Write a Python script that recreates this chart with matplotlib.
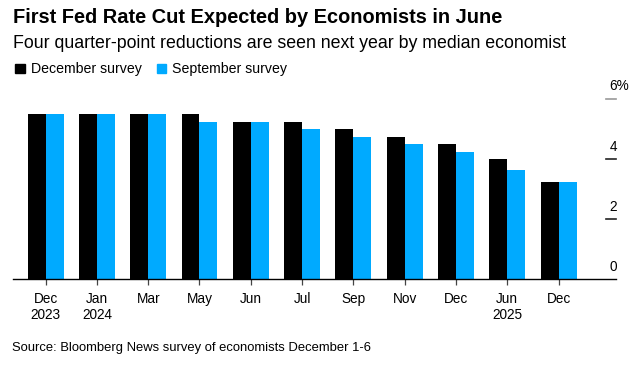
import matplotlib
matplotlib.use("Agg")
import matplotlib.pyplot as plt
import matplotlib.transforms as mtransforms
from matplotlib.patches import Rectangle
import numpy as np

# ============================
# Fed rate path: economists' survey
# ============================

months = ["Dec\n2023", "Jan\n2024", "Mar", "May", "Jun", "Jul",
          "Sep", "Nov", "Dec", "Jun\n2025", "Dec"]
december_survey = [5.5, 5.5, 5.5, 5.5, 5.25, 5.25, 5.0, 4.75, 4.5, 4.0, 3.25]
september_survey = [5.5, 5.5, 5.5, 5.25, 5.25, 5.0, 4.75, 4.5, 4.25, 3.625, 3.25]
y_ticks = [0, 2, 4, 6]
y_labels = ["0", "2", "4", "6%"]

BLACK = "#000000"
BLUE = "#00aaff"

plt.rcParams["font.family"] = ["Liberation Sans", "DejaVu Sans"]

W, H = 643, 368
fig = plt.figure(figsize=(W / 100, H / 100), dpi=100)
ax = fig.add_axes([13.3 / W, (H - 279.3) / H, (616 - 13.3) / W, (279.3 - 99) / H])

x = np.arange(len(months))
bw = 0.35
ax.bar(x - bw / 2, december_survey, width=bw, color=BLACK, zorder=2)
ax.bar(x + bw / 2, september_survey, width=bw, color=BLUE, zorder=2)

ax.set_xlim(-0.63, 11.12)
ax.set_ylim(0, 6)

for s in ["top", "left", "right"]:
    ax.spines[s].set_visible(False)
ax.spines["bottom"].set_color("black")
ax.spines["bottom"].set_linewidth(1.0)
ax.spines["bottom"].set_zorder(3)

ax.set_xticks(x)
ax.set_xticklabels(months, fontsize=9.8, linespacing=1.15)
ax.tick_params(axis="x", length=4.5, width=0.9, color="#444444", pad=5)
ax.set_yticks([])

# right-hand value scale: short dashes with labels sitting above
ytr = ax.get_yaxis_transform()
lab_tr = mtransforms.offset_copy(ytr, fig=fig, x=0, y=8.5, units="dots")
for v, lab in zip(y_ticks, y_labels):
    if v > 0:
        ax.plot([0.984, 1.0], [v, v], transform=ytr, clip_on=False,
                color="#999999" if v == 6 else "#222222", lw=1.2)
    ax.text(0.989, v, lab, transform=lab_tr, ha="left", va="baseline",
            fontsize=9.8, clip_on=False)

# titles
fig.text(13 / W, (H - 23.3) / H, "First Fed Rate Cut Expected by Economists in June",
         fontsize=14.4, fontweight="bold", va="baseline", ha="left")
fig.text(13 / W, (H - 47.7) / H,
         "Four quarter-point reductions are seen next year by median economist",
         fontsize=12.8, va="baseline", ha="left")

# legend
for x0, txt, c, tx in [(15, "December survey", BLACK, 30.7),
                       (156.7, "September survey", BLUE, 171.7)]:
    fig.patches.append(Rectangle((x0 / W, (H - 72.7) / H), 9.5 / W, 8.8 / H,
                                 transform=fig.transFigure, color=c))
    fig.text(tx / W, (H - 72.7) / H, txt, fontsize=10.2, va="baseline", ha="left")

fig.text(12 / W, (H - 350.7) / H,
         "Source: Bloomberg News survey of economists December 1-6",
         fontsize=9.4, va="baseline", ha="left")

fig.savefig("out.png", dpi=100)
plt.close(fig)
